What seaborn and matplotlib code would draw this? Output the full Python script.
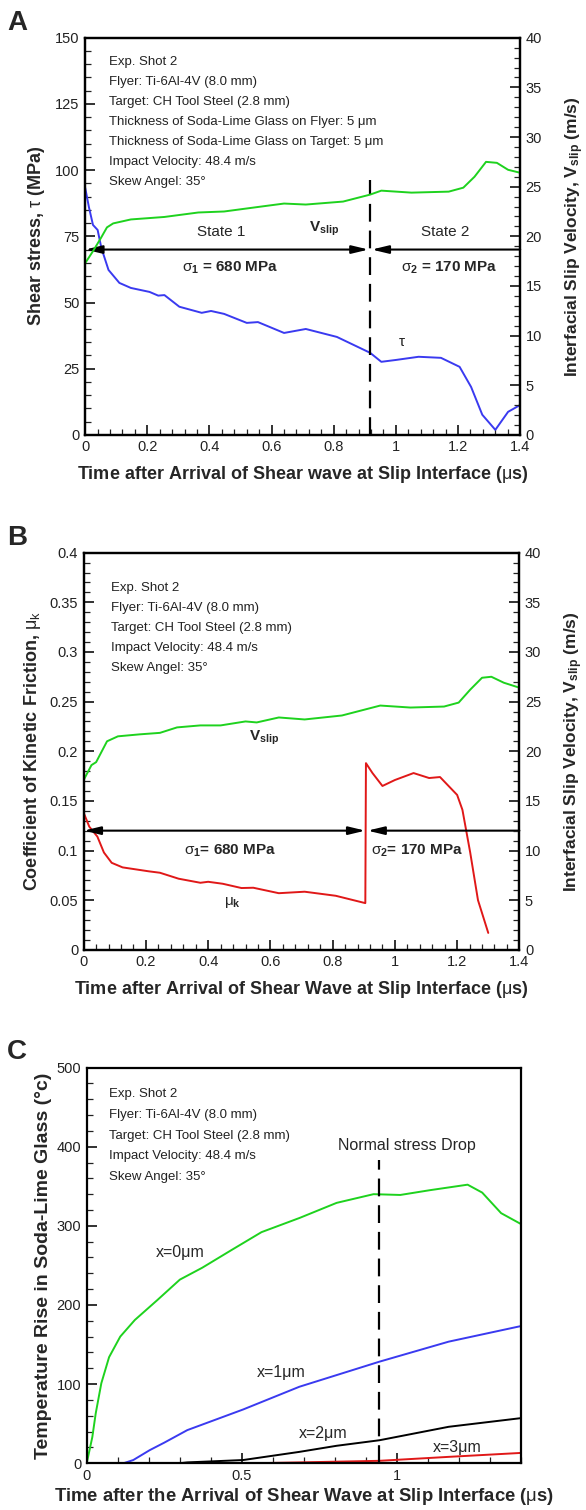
import matplotlib
matplotlib.use('Agg')
import matplotlib.pyplot as plt
from matplotlib.ticker import MultipleLocator, FormatStrFormatter
import seaborn as sns

sns.set_style('ticks')
plt.rcParams['font.family'] = ['Liberation Sans', 'DejaVu Sans']
plt.rcParams['mathtext.fontset'] = 'custom'
plt.rcParams['mathtext.rm'] = 'Liberation Sans'
plt.rcParams['mathtext.bf'] = 'Liberation Sans:bold'
plt.rcParams['mathtext.it'] = 'Liberation Sans:italic'

GREEN = '#1ed21e'
BLUE = '#3a3af0'
RED = '#e01818'

# ---- panel A: shear stress (left) and slip velocity (right)
a_t_tau = [0, 0.012, 0.025, 0.04, 0.052, 0.075, 0.11, 0.147, 0.207, 0.235, 0.255, 0.303,
           0.375, 0.405, 0.447, 0.52, 0.556, 0.64, 0.71, 0.81, 0.917, 0.953, 1.0, 1.073,
           1.145, 1.205, 1.242, 1.278, 1.32, 1.361, 1.4]
a_tau = [93.3, 86.0, 79.3, 77.4, 70.6, 62.3, 57.4, 55.5, 54.0, 52.6, 52.8, 48.4,
         46.1, 46.8, 45.7, 42.3, 42.6, 38.5, 40.0, 37.0, 31.0, 27.6, 28.3, 29.5,
         29.1, 25.7, 18.1, 7.6, 1.9, 8.7, 11.3]
a_t_v = [0, 0.025, 0.05, 0.07, 0.09, 0.147, 0.255, 0.364, 0.447, 0.567, 0.64, 0.71,
         0.83, 0.917, 0.953, 1.05, 1.17, 1.217, 1.253, 1.29, 1.325, 1.361, 1.4]
a_v = [17.3, 18.5, 19.8, 20.9, 21.3, 21.7, 21.95, 22.4, 22.5, 23.0, 23.3, 23.2,
       23.5, 24.2, 24.6, 24.4, 24.5, 24.9, 26.0, 27.5, 27.4, 26.7, 26.4]

# ---- panel B: friction coefficient (left) and slip velocity (right)
b_t_mu = [0, 0.018, 0.044, 0.065, 0.09, 0.125, 0.21, 0.245, 0.305, 0.375, 0.40, 0.447,
          0.507, 0.545, 0.627, 0.71, 0.81, 0.905, 0.907, 0.928, 0.96, 1.0, 1.06, 1.11,
          1.145, 1.2, 1.217, 1.242, 1.267, 1.3]
b_mu = [0.138, 0.124, 0.114, 0.098, 0.0876, 0.083, 0.079, 0.0776, 0.0716, 0.0675, 0.0685, 0.0665,
        0.0622, 0.0625, 0.057, 0.0585, 0.0544, 0.047, 0.188, 0.178, 0.165, 0.171, 0.178, 0.173,
        0.174, 0.156, 0.141, 0.098, 0.050, 0.017]
b_t_v = [0, 0.025, 0.04, 0.075, 0.11, 0.18, 0.245, 0.30, 0.375, 0.44, 0.52, 0.556,
         0.627, 0.71, 0.83, 0.953, 1.05, 1.158, 1.205, 1.242, 1.28, 1.31, 1.35, 1.4]
b_v = [17.1, 18.6, 18.9, 21.0, 21.5, 21.7, 21.85, 22.4, 22.6, 22.6, 23.0, 22.9,
       23.4, 23.2, 23.6, 24.6, 24.4, 24.5, 24.9, 26.2, 27.4, 27.5, 26.9, 26.4]

# ---- panel C: temperature rise at depth x
c_t0 = [0, 0.018, 0.029, 0.047, 0.072, 0.108, 0.155, 0.227, 0.30, 0.372, 0.469, 0.563,
        0.686, 0.805, 0.924, 1.01, 1.105, 1.227, 1.274, 1.335, 1.4]
c_x0 = [0, 33, 63, 101, 134, 160, 181, 206, 232, 247, 270, 292,
        310, 329, 340, 339, 345, 352, 342, 316, 302]
c_t1 = [0, 0.08, 0.119, 0.15, 0.203, 0.25, 0.324, 0.504, 0.685, 0.943, 1.166, 1.4]
c_x1 = [0, 0, 0, 4, 16.5, 26, 41.8, 67.9, 96.6, 128.3, 153.6, 173.4]
c_t2 = [0, 0.3, 0.324, 0.504, 0.685, 0.805, 0.943, 1.166, 1.4]
c_x2 = [0, 0, 1, 4, 14.3, 22, 29, 46, 57]
c_t3 = [0, 0.55, 0.685, 0.943, 1.166, 1.4]
c_x3 = [0, 0, 1, 3, 8, 13]

info_a = ['Exp. Shot 2', 'Flyer: Ti-6Al-4V (8.0 mm)', 'Target: CH Tool Steel (2.8 mm)',
          'Thickness of Soda-Lime Glass on Flyer: 5 μm',
          'Thickness of Soda-Lime Glass on Target: 5 μm',
          'Impact Velocity: 48.4 m/s', 'Skew Angel: 35°']
info_bc = ['Exp. Shot 2', 'Flyer: Ti-6Al-4V (8.0 mm)', 'Target: CH Tool Steel (2.8 mm)',
           'Impact Velocity: 48.4 m/s', 'Skew Angel: 35°']

TICK = 10.5
LAB = 13
TXT = 11


def style(ax, xmaj, xmin, ymaj, ymin, side='left'):
    ax.xaxis.set_major_locator(MultipleLocator(xmaj))
    ax.xaxis.set_minor_locator(MultipleLocator(xmin))
    ax.yaxis.set_major_locator(MultipleLocator(ymaj))
    ax.yaxis.set_minor_locator(MultipleLocator(ymin))
    ax.xaxis.set_major_formatter(FormatStrFormatter('%g'))
    ax.yaxis.set_major_formatter(FormatStrFormatter('%g'))
    left = side == 'left'
    ax.tick_params(which='both', direction='in', top=False, bottom=left,
                   left=left, right=not left, labelleft=left, labelright=not left,
                   labelbottom=left, labelsize=TICK, colors='#222222', pad=4)
    ax.tick_params(which='major', length=7.5, width=1.3)
    ax.tick_params(which='minor', length=4, width=0.9)
    for s in ax.spines.values():
        s.set_linewidth(1.6)
        s.set_color('black')


def info(ax, lines, x0, y0, dy):
    for i, s in enumerate(lines):
        ax.text(x0, y0 - i * dy, s, transform=ax.transAxes, fontsize=9.5,
                va='center', color='#222222')


fig = plt.figure(figsize=(5.86, 15.10), dpi=100)

# ================= A
ax = fig.add_axes([0.1454, 0.712, 0.7423, 0.263])
ax2 = ax.twinx()
sns.lineplot(x=a_t_tau, y=a_tau, ax=ax, color=BLUE, lw=1.4, estimator=None, sort=False)
sns.lineplot(x=a_t_v, y=a_v, ax=ax2, color=GREEN, lw=1.4, estimator=None, sort=False)
ax.set_xlim(0, 1.4)
ax.set_ylim(0, 150)
ax2.set_ylim(0, 40)
style(ax, 0.2, 0.04, 25, 5)
style(ax2, 0.2, 0.04, 5, 1, side='right')
ax.plot([0.917, 0.917], [0, 96.3], color='black', lw=1.6, dashes=(8, 4))
arrow = dict(arrowstyle='<|-|>,head_length=1.0,head_width=0.24', color='black', lw=1.5,
             shrinkA=0, shrinkB=0)
ax.annotate('', xy=(0.0, 70), xytext=(0.912, 70), arrowprops=arrow)
ax.annotate('', xy=(0.922, 70), xytext=(1.4, 70),
            arrowprops=dict(arrow, arrowstyle='-|>,head_length=1.0,head_width=0.24'))
ax.text(0.437, 76.5, 'State 1', fontsize=TXT, ha='center', va='center')
ax.text(1.158, 76.5, 'State 2', fontsize=TXT, ha='center', va='center')
ax.text(0.77, 78, r'$\mathbf{V}_\mathbf{slip}$', fontsize=TXT, ha='center', va='center')
ax.text(0.466, 63, r'$\mathrm{\sigma}_\mathbf{1}$ = 680 MPa', fontsize=TXT, fontweight='bold',
        ha='center', va='center')
ax.text(1.17, 63, r'$\mathrm{\sigma}_\mathbf{2}$ = 170 MPa', fontsize=TXT, fontweight='bold',
        ha='center', va='center')
ax.text(1.02, 35, 'τ', fontsize=TXT, ha='center', va='center')
info(ax, info_a, 0.055, 0.9395, 0.0504)
ax.set_xlabel(r'Time after Arrival of Shear wave at Slip Interface ($\mathrm{\mu}$s)',
              fontsize=LAB, fontweight='bold', labelpad=7)
ax.set_ylabel(r'Shear stress, $\mathrm{\tau}$ (MPa)', fontsize=LAB, fontweight='bold',
              labelpad=6)
ax2.set_ylabel(r'Interfacial Slip Velocity, V$_\mathbf{slip}$ (m/s)', fontsize=12.5,
               fontweight='bold', labelpad=15)

# ================= B
bx = fig.add_axes([0.1428, 0.371, 0.7435, 0.263])
bx2 = bx.twinx()
sns.lineplot(x=b_t_mu, y=b_mu, ax=bx, color=RED, lw=1.4, estimator=None, sort=False)
sns.lineplot(x=b_t_v, y=b_v, ax=bx2, color=GREEN, lw=1.4, estimator=None, sort=False)
bx.set_xlim(0, 1.4)
bx.set_ylim(0, 0.4)
bx2.set_ylim(0, 40)
style(bx, 0.2, 0.04, 0.05, 0.01)
style(bx2, 0.2, 0.04, 5, 1, side='right')
bx.annotate('', xy=(0.0, 0.12), xytext=(0.905, 0.12), arrowprops=arrow)
bx.annotate('', xy=(0.912, 0.12), xytext=(1.4, 0.12),
            arrowprops=dict(arrow, arrowstyle='-|>,head_length=1.0,head_width=0.24'))
bx.text(0.58, 0.2136, r'$\mathbf{V}_\mathbf{slip}$', fontsize=TXT, ha='center', va='center')
bx.text(0.47, 0.1, r'$\mathrm{\sigma}_\mathbf{1}$= 680 MPa', fontsize=TXT, fontweight='bold',
        ha='center', va='center')
bx.text(1.07, 0.1, r'$\mathrm{\sigma}_\mathbf{2}$= 170 MPa', fontsize=TXT, fontweight='bold',
        ha='center', va='center')
bx.text(0.478, 0.048, r'$\mathrm{\mu}_\mathbf{k}$', fontsize=TXT, ha='center', va='center')
info(bx, info_bc, 0.062, 0.912, 0.0504)
bx.set_xlabel(r'Time after Arrival of Shear Wave at Slip Interface ($\mathrm{\mu}$s)',
              fontsize=LAB, fontweight='bold', labelpad=7)
bx.set_ylabel(r'Coefficient of Kinetic Friction, $\mathrm{\mu}_\mathrm{k}$', fontsize=LAB,
              fontweight='bold', labelpad=5)
bx2.set_ylabel(r'Interfacial Slip Velocity, V$_\mathbf{slip}$ (m/s)', fontsize=12.5,
               fontweight='bold', labelpad=15)

# ================= C
cx = fig.add_axes([0.148, 0.031, 0.7416, 0.262])
for tt, vv, col in [(c_t0, c_x0, GREEN), (c_t1, c_x1, BLUE), (c_t2, c_x2, 'black'),
                    (c_t3, c_x3, RED)]:
    sns.lineplot(x=tt, y=vv, ax=cx, color=col, lw=1.4, estimator=None, sort=False)
cx.set_xlim(0, 1.4)
cx.set_ylim(0, 500)
style(cx, 0.5, 0.1, 100, 20)
cx.plot([0.942, 0.942], [0, 383], color='black', lw=1.6, dashes=(8, 4))
cx.text(1.03, 401, 'Normal stress Drop', fontsize=11.5, ha='center', va='center')
cx.text(0.30, 266, 'x=0μm', fontsize=11.5, ha='center', va='center')
cx.text(0.625, 114, 'x=1μm', fontsize=11.5, ha='center', va='center')
cx.text(0.762, 38, 'x=2μm', fontsize=11.5, ha='center', va='center')
cx.text(1.195, 20, 'x=3μm', fontsize=11.5, ha='center', va='center')
info(cx, info_bc, 0.052, 0.932, 0.052)
cx.set_xlabel(r'Time after the Arrival of Shear Wave at Slip Interface ($\mathrm{\mu}$s)',
              fontsize=13.3, fontweight='bold', labelpad=2)
cx.set_ylabel('Temperature Rise in Soda-Lime Glass (°c)', fontsize=14, fontweight='bold',
              labelpad=3)

for lab, y in [('A', 0.980), ('B', 0.639), ('C', 0.2987)]:
    fig.text(0.012, y, lab, fontsize=20, fontweight='bold', va='baseline')

fig.savefig('out.png', dpi=100)
